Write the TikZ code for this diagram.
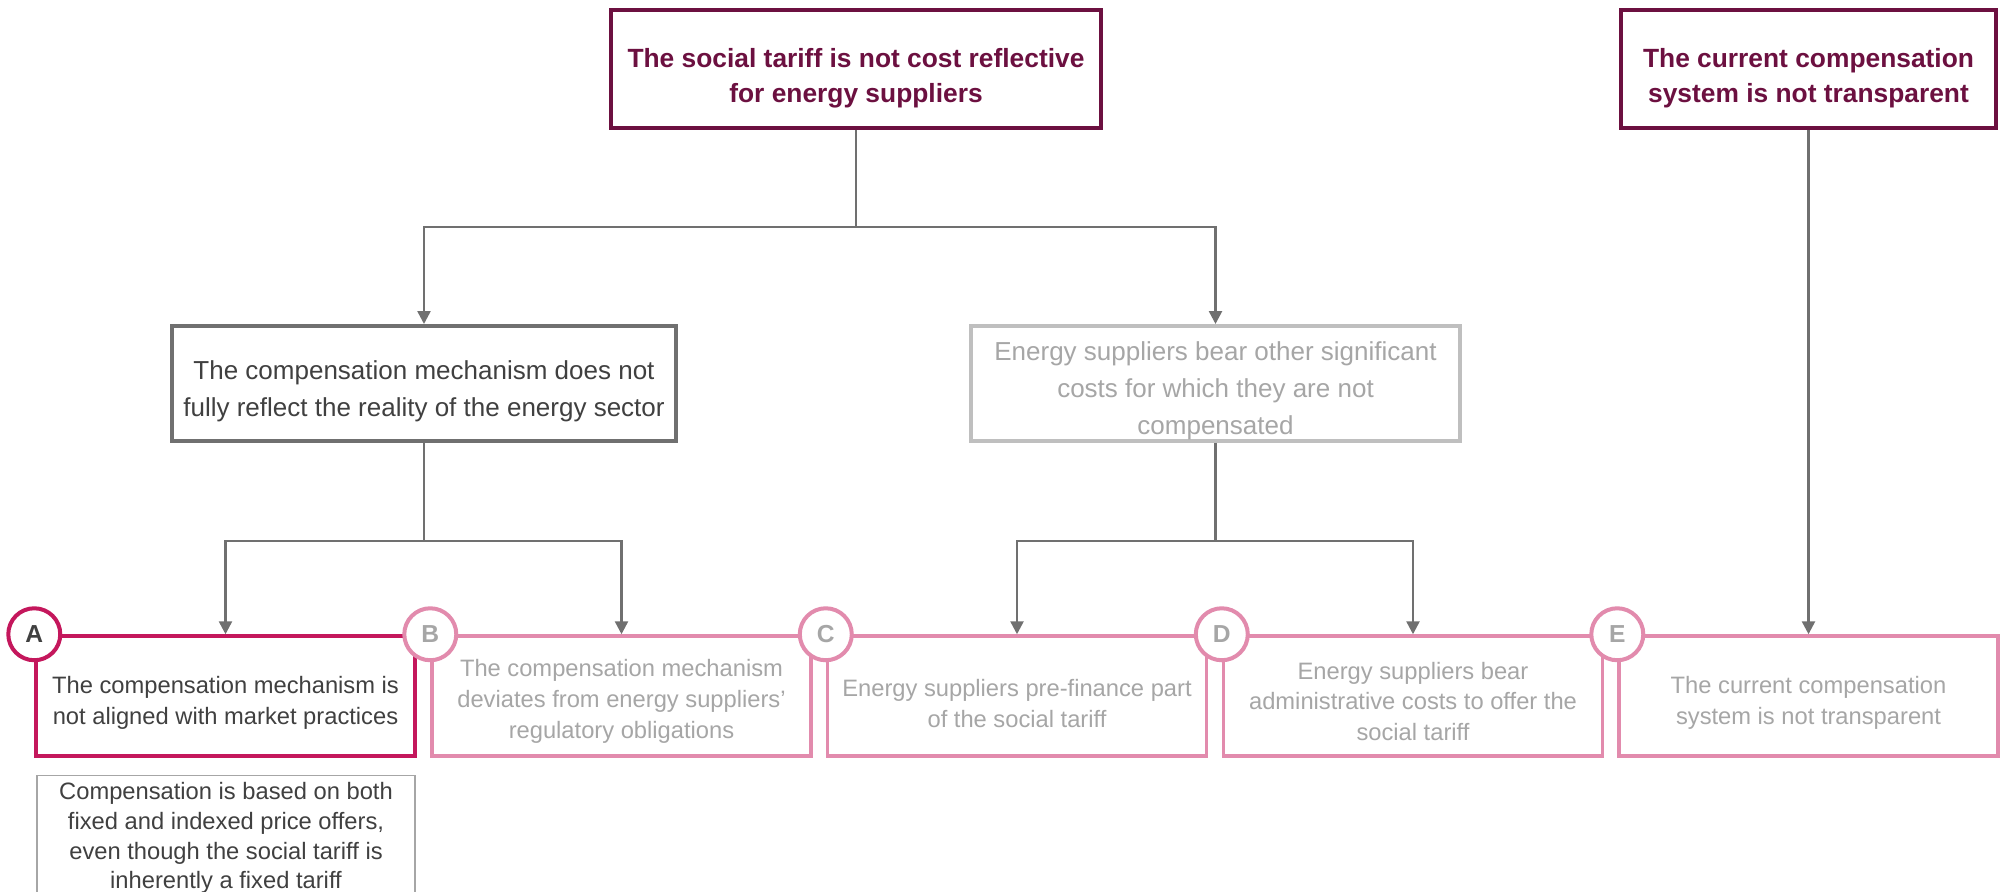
\documentclass[tikz,border=0pt]{standalone}
\usepackage{fontspec}
\setmainfont{Liberation Sans}
\usetikzlibrary{arrows.meta}

\definecolor{wine}{HTML}{6C1040}
\definecolor{darkline}{HTML}{707070}
\definecolor{lightline}{HTML}{BFBFBF}
\definecolor{darktext}{HTML}{404040}
\definecolor{greytext}{HTML}{A6A6A6}
\definecolor{crimson}{HTML}{C4175C}
\definecolor{rose}{HTML}{E28BAD}

% pushes a node text a little down
\newcommand\lift[1]{\rule{0pt}{#1}}

\begin{document}
\begin{tikzpicture}[
        x=0.02cm, y=-0.02cm,
        box/.style={draw, rectangle, fill=white, align=center, inner sep=0pt},
        head/.style={box, draw=wine, text=wine, line width=0.08cm, minimum height=2.36cm,
            font=\fontsize{15}{20}\selectfont\bfseries},
        mid/.style={box, line width=0.08cm, minimum height=2.3cm, font=\fontsize{14.8}{21}\selectfont},
        leaf/.style={box, draw=rose, text=greytext, line width=0.07cm, minimum width=7.58cm,
            minimum height=2.4cm, font=\fontsize{13.5}{17.5}\selectfont},
        remark/.style={box, draw=greytext, line width=0.03cm, text=darktext, minimum width=7.56cm,
            minimum height=2.5cm, font=\fontsize{13.5}{17}\selectfont},
        tag/.style={circle, draw=rose, text=greytext, fill=white, line width=0.08cm, minimum size=1.04cm,
            inner sep=0pt, font=\fontsize{14}{14}\selectfont\bfseries},
        link/.style={draw=darkline, line width=0.05cm},
        arr/.style={link, -{Triangle[length=0.26cm, width=0.26cm]}}
    ]
    \clip (0,0) rectangle (2005,892);
    % problems
    \node[head, minimum width=9.8cm] (root) at (856,69) {\lift{21pt}The social tariff is not cost reflective\\for energy suppliers};
    \node[head, minimum width=7.52cm] (transp) at (1808.5,69) {\lift{21pt}The current compensation\\system is not transparent};
    % sub-problems
    \node[mid, draw=darkline, text=darktext, minimum width=10.08cm] (mech) at (424,383.5)
        {\lift{20pt}The compensation mechanism does not\\fully reflect the reality of the energy sector};
    \node[mid, draw=lightline, text=greytext, minimum width=9.78cm] (costs) at (1215.5,383.5)
        {\lift{19pt}Energy suppliers bear other significant\\costs for which they are not\\compensated};
    % causes
    \node[leaf, draw=crimson, text=darktext] (A) at (225.5,696) {\lift{18pt}The compensation mechanism is\\not aligned with market practices};
    \node[leaf] (B) at (621.5,696) {\lift{16pt}The compensation mechanism\\deviates from energy suppliers’\\regulatory obligations};
    \node[leaf] (C) at (1017,696) {\lift{18pt}Energy suppliers pre-finance part\\of the social tariff};
    \node[leaf] (D) at (1413,696) {\lift{16pt}Energy suppliers bear\\administrative costs to offer the\\social tariff};
    \node[leaf] (E) at (1808.5,696) {\lift{18pt}The current compensation\\system is not transparent};
    \node[remark] (note) at (226,838)
        {Compensation is based on both\\fixed and indexed price offers,\\even though the social tariff is\\inherently a fixed tariff};
    % connectors
    \coordinate (j1) at (856,227);
    \coordinate (j2) at (424,541);
    \coordinate (j3) at (1215.5,541);
    \draw[link] (root) -- (j1);
    \draw[arr] (j1) -| (mech);
    \draw[arr] (j1) -| (costs);
    \draw[link] (mech) -- (j2);
    \draw[arr] (j2) -| (A);
    \draw[arr] (j2) -| (B);
    \draw[link] (costs) -- (j3);
    \draw[arr] (j3) -| (C);
    \draw[arr] (j3) -| (D);
    \draw[arr] (transp) -- (E);
    % letters
    \node[tag, draw=crimson, text=darktext] (tA) at (A.north west) {A};
    \node[tag] (tB) at (B.north west) {B};
    \node[tag] (tC) at (C.north west) {C};
    \node[tag] (tD) at (D.north west) {D};
    \node[tag] (tE) at (E.north west) {E};
\end{tikzpicture}
\end{document}
